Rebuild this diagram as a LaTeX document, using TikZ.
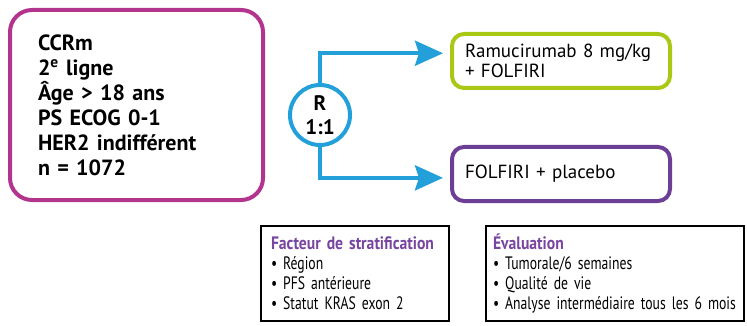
\documentclass[tikz,border=0pt]{standalone}
\usepackage{fontspec}
\setmainfont{PT Sans}
\newfontfamily\etroit[FakeStretch=0.76]{PT Sans}
\newfontfamily\etroitgras[FakeStretch=0.87]{PT Sans}
\usetikzlibrary{arrows.meta}

\definecolor{rose}{RGB}{178,52,140}
\definecolor{vertanis}{RGB}{168,200,20}
\definecolor{violet}{RGB}{108,62,150}
\definecolor{bleu}{RGB}{35,160,218}
\definecolor{titre}{RGB}{120,70,160}

\begin{document}
\begin{tikzpicture}[x=1pt, y=-1pt,
    cadre/.style={draw, line width=4pt, rounded corners=12pt, align=left, inner ysep=0pt},
    encadre/.style={draw, line width=2pt, align=left, inner ysep=0pt, minimum height=95pt,
      font=\etroit\fontsize{18}{20}\selectfont},
    fleche/.style={draw=bleu, line width=4pt, -{Stealth[length=28pt, width=25pt, inset=4pt]}, shorten >=7pt}]
    \useasboundingbox (0,0) rectangle (747,326);
    % Population
    \node[cadre, draw=rose, rounded corners=22pt, minimum width=253pt, minimum height=190pt,
      inner xsep=28pt, text width=197pt, font=\bfseries\fontsize{22}{25}\selectfont] at (136.5,105) (essai)
      {CCRm\\2\textsuperscript{e} ligne\\Âge > 18 ans\\PS ECOG 0-1\\HER2 indifférent\\n = 1072};
    % Randomisation
    \node[draw=bleu, line width=4pt, circle, minimum size=60pt, inner sep=0pt, align=center,
      font=\bfseries\fontsize{21}{24}\selectfont] at (320,115) (rando) {R\\1:1};
    % Bras
    \node[cadre, draw=vertanis, minimum width=218pt, minimum height=54pt, inner xsep=13pt, text width=192pt,
      font=\fontsize{19}{20}\selectfont] at (561,61) (bras1) {Ramucirumab 8 mg/kg\\+ FOLFIRI};
    \node[cadre, draw=violet, minimum width=218pt, minimum height=54pt, inner xsep=13pt, text width=192pt,
      font=\fontsize{19}{20}\selectfont] at (561,174) (bras2) {FOLFIRI + placebo};
    \draw[fleche] (rando.north) |- (bras1.176);
    \draw[fleche] (rando.south) |- (bras2.182);
    % Encadres du bas
    \node[encadre, minimum width=188pt, inner xsep=10pt, text width=168pt] at (355,273.5) (strat)
      {\textcolor{titre}{\etroitgras\bfseries Facteur de stratification}\\\textbullet{} Région\\\textbullet{} PFS antérieure\\\textbullet{} Statut KRAS exon 2};
    \node[encadre, minimum width=258pt, inner xsep=7pt, text width=244pt] at (615,273.5) (evalu)
      {\textcolor{titre}{\etroitgras\bfseries Évaluation}\\\textbullet{} Tumorale/6 semaines\\\textbullet{} Qualité de vie\\\textbullet{} Analyse intermédiaire tous les 6 mois};
\end{tikzpicture}
\end{document}
